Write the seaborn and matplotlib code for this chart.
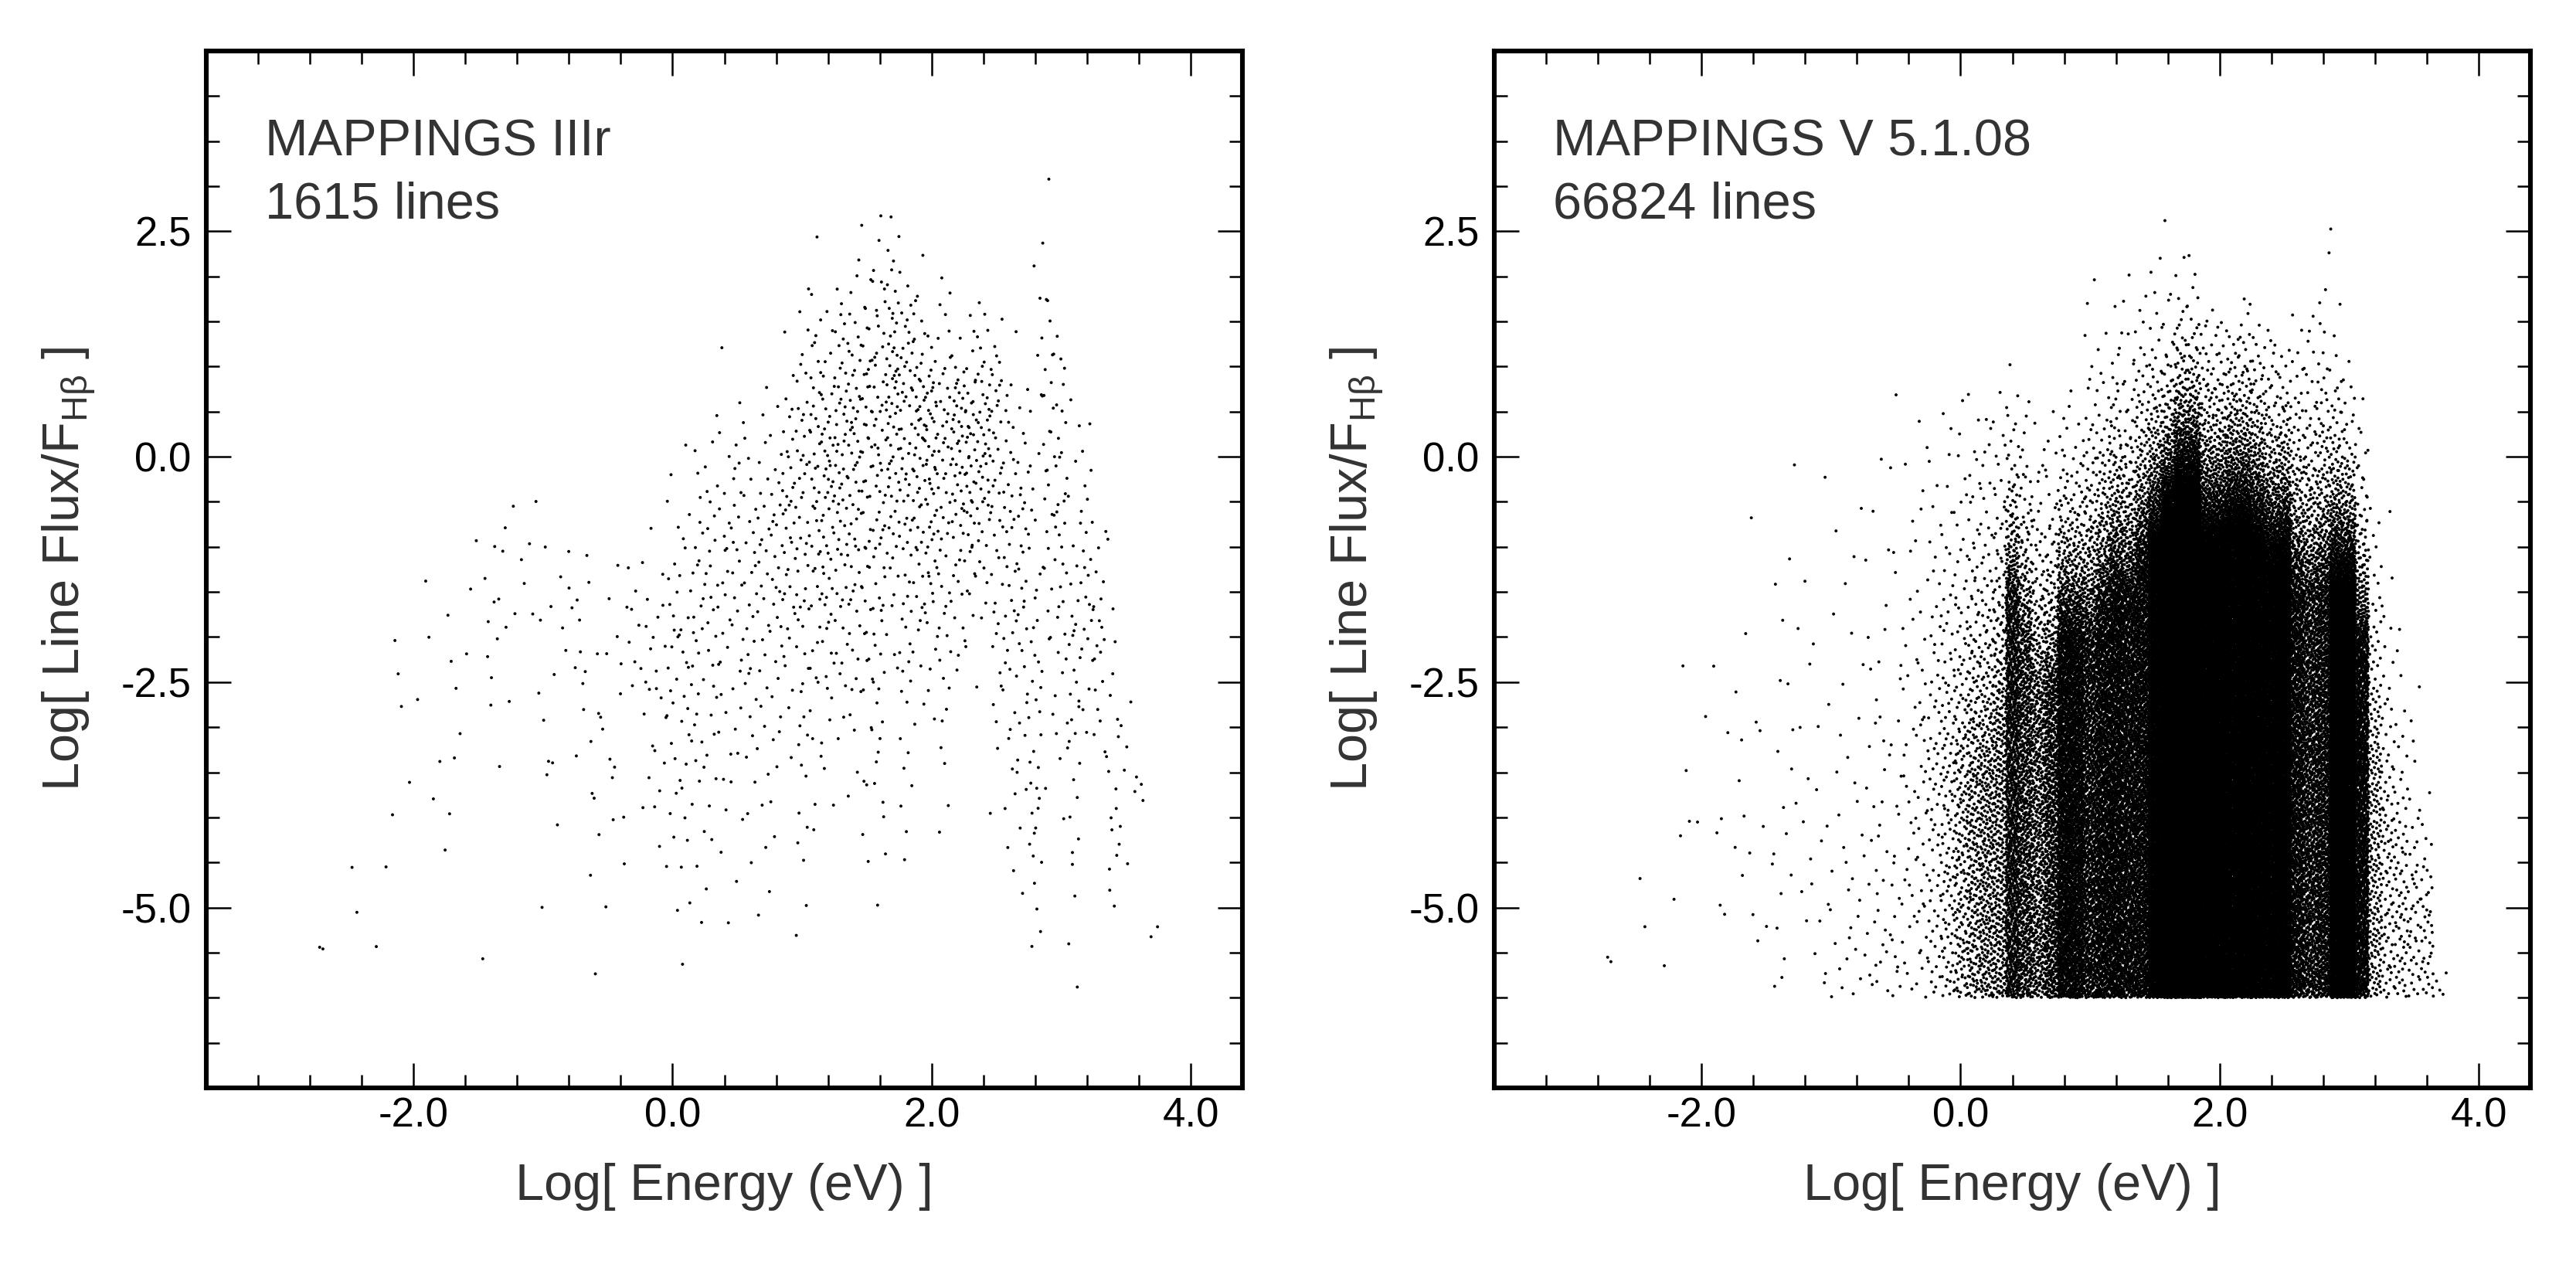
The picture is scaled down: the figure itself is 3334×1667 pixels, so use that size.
import numpy as np
import pandas as pd
import matplotlib
matplotlib.use("Agg")
import matplotlib.pyplot as plt
import seaborn as sns
from matplotlib.ticker import MultipleLocator, FormatStrFormatter

# energy bins (log eV), 0.1 dex wide
bin_centers = np.round(np.arange(-2.7, 3.75, 0.1), 1)

# MAPPINGS IIIr: number of lines per bin and the spread of log flux (low, peak, high)
old_count = [2, 0, 1, 1, 1, 2, 3, 2, 2, 3, 5, 3, 2, 8, 6, 3, 4, 7, 5, 6, 8, 10, 7, 8, 7, 12, 14,
             23, 26, 30, 28, 26, 28, 28, 30, 32, 38,
             52, 54, 56, 58, 60, 62, 66, 66, 64, 60,
             58, 52, 50, 50, 46, 44, 40, 38, 42, 34,
             36, 34, 24, 18, 18, 6, 4, 2]
old_low = [-5.5, -5, -4.6, -5.1, -5.5, -5.5, -2.9, -4.3, -3.4, -5.4, -4.8, -4.9, -5.8, -3.5, -4.1,
           -2.9, -2.3, -5.4, -5.8, -2.6, -4.0, -5.8, -5.6, -5.6, -3.5, -4.1, -5.4,
           -5.6, -5.8, -5.6, -5.5, -5.2, -5.0, -5.0, -5.2, -4.8, -3.5,
           -5.9, -4.2, -4.0, -3.5, -4.0, -4.5, -5.1, -2.5, -5.0, -3.0,
           -3.0, -4.6, -2.5, -2.6, -2.0, -4.1, -5.0, -5.1, -6.0, -3.7,
           -4.3, -6.0, -3.3, -3.8, -5.3, -5.9, -3.9, -5.5]
old_peak = [-5.45, -5, -4.5, -5.05, -5.45, -4.0, -2.3, -3.0, -2.0, -3.4, -1.5, -2.4, -3.0, -2.0, -1.0,
            -1.0, -0.5, -3.0, -1.0, -2.0, -2.5, -3.0, -3.5, -2.0, -1.8, -2.3, -2.2,
            -2.0, -2.2, -1.5, -1.0, -1.2, -0.8, -1.0, -0.8, -0.6, -0.5,
            0.0, 0.3, 0.0, 0.3, 0.5, 0.8, 0.5, 0.8, 1.0, 0.5,
            0.5, 0.5, 0.5, 0.3, 0.2, 0.8, 0.0, -1.0, -4.0, 0.5,
            -0.5, -2.5, -1.5, -2.0, -4.5, -3.0, -3.7, -5.2]
old_high = [-5.4, -5, -4.4, -5.0, -5.4, -2.7, -1.8, -1.7, -0.5, -3.2, -1.0, -0.3, -0.3, -0.3, 0.1,
            -0.2, 0.1, -0.6, -0.6, -0.6, -0.6, -1.2, -0.3, -0.5, -0.5, -0.4, -0.7,
            0.2, 0.3, 0.6, 0.8, 1.3, 1.2, 0.6, 1.0, 0.9, 1.5,
            2.0, 2.5, 1.8, 2.2, 2.3, 2.6, 3.0, 2.8, 2.4, 2.3,
            1.5, 2.4, 1.4, 1.6, 2.0, 1.7, 1.1, 1.5, 2.5, 3.1,
            2.0, 0.9, 0.8, -0.3, -0.6, -1.9, -3.5, -5.0]

# MAPPINGS V 5.1.08: lines per bin, lowest log flux, top of the dense part,
# fall-off scale above it and highest log flux
new_count = [2, 0, 1, 1, 1, 2, 3, 2, 3, 3, 7, 5, 4, 11, 9, 8, 8, 12, 12, 15, 18, 22, 25, 30, 45, 70, 110,
             180, 280, 330, 400, 1100, 800, 550, 800, 1600, 1500,
             1100, 1500, 1700, 1400, 1600, 2500, 4500, 5940, 5940, 3000,
             3200, 3000, 3000, 3000, 2700, 3000, 1500, 1100, 1300, 2800,
             3300, 1300, 220, 90, 70, 45, 40, 5]
new_low = [-5.65, -5, -4.7, -5.3, -5.8, -5.3, -4.1, -4.3, -5.7, -5.2, -5.1, -5.4, -5.8, -6.0, -4.7,
           -5.5] + [-6.0] * 49
new_dense_top = [-5.65, -5, -4.7, -5.3, -5.8, -5.3, -4.1, -4.3, -5.7, -5.2, -5.1, -5.4, -5.8, -6.0, -4.7,
                 -5.5, -6.0, -6.0, -6.0, -6.0, -6.0, -6.0, -6.0, -3.0, -3.0, -3.0, -3.2,
                 -3.5, -3.5, -3.5, -3.0, -1.5, -2.0, -2.5, -2.5, -2.0, -2.0,
                 -2.0, -1.8, -1.5, -1.5, -1.2, -1.0, -0.8, -0.6, -0.6, -1.0,
                 -1.0, -0.8, -0.8, -1.0, -1.2, -1.2, -1.5, -1.5, -1.5, -1.5,
                 -1.5, -2.0, -3.5, -4.0, -4.5, -5.0, -5.0, -6.0]
new_falloff = [3.0] * 23 + [2.0, 2.0, 1.8, 1.6,
               1.5, 1.4, 1.3, 1.2, 0.6, 0.7, 0.8, 0.7, 0.6, 0.6,
               0.8, 0.7, 0.7, 0.7, 0.7, 0.6, 0.5, 0.5, 0.5, 0.6,
               0.6, 0.6, 0.6, 0.6, 0.6, 0.6, 0.7, 0.8, 0.8, 0.6,
               0.5, 0.6, 1.2, 1.2, 1.0, 1.0, 0.6, 0.2]
new_high = [-5.5, -5, -4.5, -5.1, -5.6, -2.9, -2.0, -2.0, -0.4, -2.8, -0.8, -0.2, -1.5, -0.6, 0.2,
            -0.4, 0.1, 0.0, 0.3, 0.0, 0.5, 0.4, 0.9, 0.6, 0.5, 0.6, 0.8,
            0.8, 0.8, 0.6, 0.8, 1.2, 0.9, 0.5, 0.6, 0.8, 0.8,
            2.3, 1.8, 1.8, 2.1, 2.2, 2.5, 3.0, 2.5, 2.4, 1.8,
            1.5, 1.5, 1.8, 1.6, 1.5, 1.2, 1.9, 1.6, 2.6, 2.6,
            1.4, 0.7, -0.2, -0.4, -1.5, -2.4, -3.5, -5.7]

panel_titles = ["MAPPINGS IIIr\n1615 lines", "MAPPINGS V 5.1.08\n66824 lines"]


def radical_inverse(i, base):
    i = i.copy()
    out = np.zeros(len(i))
    f = 1.0 / base
    while np.any(i > 0):
        out += f * (i % base)
        i //= base
        f /= base
    return out


def fill_bin(center, n, lo, hi, profile, start):
    # spread n lines over one bin with an even (Halton) pattern following the flux profile
    idx = np.arange(start, start + n) + 1
    x = center - 0.05 + 0.1 * radical_inverse(idx, 2)
    u = radical_inverse(idx, 3)
    if hi - lo < 1e-6:
        return x, np.full(n, lo)
    grid = np.linspace(lo, hi, 800)
    pdf = profile(grid) + 1e-5
    cdf = np.concatenate([[0], np.cumsum((pdf[1:] + pdf[:-1]) / 2)])
    cdf /= cdf[-1]
    return x, np.interp(u, cdf, grid)


def triangle(lo, pk, hi):
    def f(y):
        up = np.clip((y - lo) / (pk - lo), 0, 1) if pk > lo else np.ones_like(y)
        down = np.clip((hi - y) / (hi - pk), 0, 1) if hi > pk else np.ones_like(y)
        return np.maximum(np.minimum(up, down), 0.15)
    return f


def plateau(top, scale):
    def f(y):
        return np.where(y <= top, 1.0, np.exp(-(y - top) / scale))
    return f


rows = []
start = 0
for c, n, lo, pk, hi in zip(bin_centers, old_count, old_low, old_peak, old_high):
    if n:
        x, y = fill_bin(c, n, lo, hi, triangle(lo, pk, hi), start)
        rows.append(pd.DataFrame({"energy": x, "flux": y}))
        start += n
df_old = pd.concat(rows, ignore_index=True)

rows = []
start = 0
for c, n, lo, top, sc, hi in zip(bin_centers, new_count, new_low, new_dense_top, new_falloff, new_high):
    if n:
        x, y = fill_bin(c, n, lo, hi, plateau(top, sc), start)
        rows.append(pd.DataFrame({"energy": x, "flux": y}))
        start += n
df_new = pd.concat(rows, ignore_index=True)

sns.set_style("ticks")
plt.rcParams["font.family"] = ["Liberation Sans", "DejaVu Sans"]
plt.rcParams["mathtext.fontset"] = "custom"
plt.rcParams["mathtext.rm"] = "Liberation Sans"
plt.rcParams["axes.unicode_minus"] = False

fig = plt.figure(figsize=(16.67, 8.335), dpi=200)
ax1 = fig.add_axes([0.0801, 0.1554, 0.4022, 0.805])
ax2 = fig.add_axes([0.5801, 0.1554, 0.4022, 0.805])

text_grey = "#333333"
for ax, df, title in zip([ax1, ax2], [df_old, df_new], panel_titles):
    sns.scatterplot(x="energy", y="flux", data=df, ax=ax, color="black",
                    s=2.0, linewidth=0, edgecolor="none")
    ax.set_xlim(-3.6, 4.4)
    ax.set_ylim(-7.0, 4.5)
    ax.xaxis.set_major_locator(MultipleLocator(2.0))
    ax.xaxis.set_minor_locator(MultipleLocator(0.4))
    ax.yaxis.set_major_locator(MultipleLocator(2.5))
    ax.yaxis.set_minor_locator(MultipleLocator(0.5))
    ax.xaxis.set_major_formatter(FormatStrFormatter("%.1f"))
    ax.yaxis.set_major_formatter(FormatStrFormatter("%.1f"))
    ax.tick_params(which="both", direction="in", top=True, right=True,
                   width=0.9, colors="black", labelsize=19)
    ax.tick_params(which="major", length=11.5)
    ax.tick_params(which="minor", length=6)
    ax.tick_params(axis="x", pad=4)
    ax.tick_params(axis="y", pad=7)
    for sp in ax.spines.values():
        sp.set_linewidth(2.2)
        sp.set_color("black")
    ax.set_xlabel("Log[ Energy (eV) ]", fontsize=24, color=text_grey, labelpad=13)
    ax.set_ylabel("Log[ Line Flux/F$_{\\mathregular{Hβ}}$ ]", fontsize=24,
                  color=text_grey, labelpad=11)
    ax.text(0.057, 0.935, title, transform=ax.transAxes, ha="left", va="top",
            fontsize=24, color=text_grey, linespacing=1.4)

fig.savefig("out.png", dpi=200)
